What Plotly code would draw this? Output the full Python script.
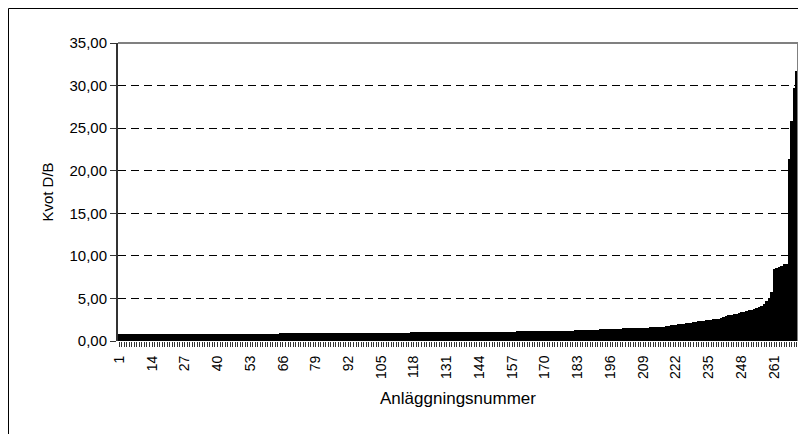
import plotly.graph_objects as go

# Data: ratio D/B per facility, sorted ascending
values = [
    0.85, 0.85, 0.85, 0.85, 0.85, 0.85, 0.85, 0.85, 0.85, 0.85,
    0.85, 0.85, 0.85, 0.86, 0.86, 0.86, 0.86, 0.86, 0.86, 0.86,
    0.86, 0.86, 0.86, 0.86, 0.86, 0.86, 0.86, 0.86, 0.86, 0.86,
    0.86, 0.86, 0.87, 0.87, 0.87, 0.87, 0.87, 0.87, 0.87, 0.87,
    0.87, 0.87, 0.87, 0.87, 0.87, 0.87, 0.87, 0.87, 0.87, 0.87,
    0.87, 0.87, 0.88, 0.88, 0.88, 0.88, 0.88, 0.88, 0.88, 0.88,
    0.88, 0.88, 0.88, 0.88, 0.89, 0.89, 0.89, 0.89, 0.89, 0.89,
    0.89, 0.89, 0.90, 0.90, 0.90, 0.90, 0.90, 0.91, 0.91, 0.91,
    0.91, 0.91, 0.92, 0.92, 0.92, 0.92, 0.93, 0.93, 0.93, 0.93,
    0.94, 0.94, 0.94, 0.94, 0.95, 0.95, 0.95, 0.95, 0.96, 0.96,
    0.96, 0.96, 0.97, 0.97, 0.97, 0.97, 0.98, 0.98, 0.98, 0.98,
    0.98, 0.99, 0.99, 0.99, 0.99, 0.99, 1.00, 1.00, 1.00, 1.00,
    1.00, 1.00, 1.01, 1.01, 1.01, 1.01, 1.01, 1.02, 1.02, 1.02,
    1.02, 1.02, 1.03, 1.03, 1.03, 1.03, 1.04, 1.04, 1.04, 1.05,
    1.05, 1.05, 1.06, 1.06, 1.06, 1.07, 1.07, 1.07, 1.08, 1.08,
    1.08, 1.09, 1.09, 1.10, 1.10, 1.10, 1.11, 1.11, 1.12, 1.12,
    1.12, 1.13, 1.13, 1.14, 1.14, 1.15, 1.15, 1.16, 1.16, 1.17,
    1.17, 1.18, 1.18, 1.19, 1.19, 1.20, 1.21, 1.21, 1.22, 1.23,
    1.23, 1.24, 1.25, 1.26, 1.27, 1.28, 1.29, 1.30, 1.31, 1.33,
    1.34, 1.36, 1.38, 1.40, 1.41, 1.42, 1.43, 1.44, 1.45, 1.46,
    1.47, 1.48, 1.49, 1.50, 1.51, 1.52, 1.53, 1.55, 1.56, 1.57,
    1.58, 1.59, 1.60, 1.62, 1.64, 1.66, 1.70, 1.74, 1.80, 1.86,
    1.90, 1.93, 1.96, 2.00, 2.04, 2.08, 2.12, 2.17, 2.22, 2.28,
    2.32, 2.36, 2.40, 2.44, 2.48, 2.52, 2.56, 2.60, 2.64, 2.68,
    2.80, 2.90, 3.00, 3.08, 3.15, 3.22, 3.30, 3.38, 3.45, 3.52,
    3.60, 3.68, 3.76, 3.85, 3.95, 4.10, 4.35, 4.65, 5.10, 5.70,
    8.50, 8.60, 8.70, 8.85, 9.00, 9.10, 21.40, 25.80, 29.70, 31.70,
]
facility_numbers = list(range(1, len(values) + 1))

x_label_values = [1, 14, 27, 40, 53, 66, 79, 92, 105, 118, 131, 144, 157, 170,
                  183, 196, 209, 222, 235, 248, 261]
y_tick_values = [0, 5, 10, 15, 20, 25, 30, 35]

# every bar gets a tick mark; only every 13th gets a label
x_tick_text = [str(n) if n in x_label_values else "" for n in facility_numbers]

FONT = "Liberation Sans, Arial, sans-serif"

fig = go.Figure(
    go.Bar(
        x=facility_numbers,
        y=values,
        marker=dict(color="black", line=dict(width=0)),
        hoverinfo="x+y",
    )
)

# The page body has an 8px margin, so the figure is sized 8px smaller.
fig.update_layout(
    width=798,
    height=426,
    margin=dict(l=110, r=8, t=35, b=93),
    paper_bgcolor="white",
    plot_bgcolor="white",
    bargap=0,
    showlegend=False,
    separators=", ",
    font=dict(family=FONT, size=15, color="black"),
    xaxis=dict(
        range=[0.5, len(values) + 0.5],
        tickmode="array",
        tickvals=facility_numbers,
        ticktext=x_tick_text,
        tickangle=-90,
        ticks="outside",
        ticklen=5,
        tickcolor="#333333",
        tickwidth=1,
        tickfont=dict(family=FONT, size=14, color="black"),
        ticklabelstandoff=3,
        showgrid=False,
        zeroline=False,
        showline=False,
        automargin=False,
        title=dict(text="Anläggningsnummer", font=dict(family=FONT, size=17), standoff=14),
    ),
    yaxis=dict(
        range=[0, 35],
        tickmode="array",
        tickvals=y_tick_values,
        tickformat=".2f",
        ticks="outside",
        ticklen=6,
        tickcolor="#333333",
        tickfont=dict(family=FONT, size=15, color="black"),
        showgrid=True,
        gridcolor="black",
        gridwidth=1,
        griddash="8px,5px",
        zeroline=False,
        showline=True,
        linecolor="#333333",
        linewidth=2,
        automargin=False,
        title=dict(text="Kvot D/B", font=dict(family=FONT, size=15), standoff=12),
    ),
)

# plot-area border (top and right) in gray, and the outer frame
fig.add_shape(type="line", xref="paper", yref="paper", x0=0, x1=1, y0=1, y1=1,
              line=dict(color="#808080", width=2))
fig.add_shape(type="line", xref="paper", yref="paper", x0=1, x1=1, y0=0, y1=1,
              line=dict(color="#808080", width=2))
fig.add_shape(type="line", xref="paper", yref="paper",
              x0=(0.5 - 110) / 680, x1=(800 - 110) / 680,
              y0=(333 - 0.5) / 298, y1=(333 - 0.5) / 298,
              line=dict(color="black", width=1))
fig.add_shape(type="line", xref="paper", yref="paper",
              x0=(0.5 - 110) / 680, x1=(0.5 - 110) / 680,
              y0=(333 - 0.5) / 298, y1=(333 - 430) / 298,
              line=dict(color="black", width=1))

fig.write_html("out.html")
